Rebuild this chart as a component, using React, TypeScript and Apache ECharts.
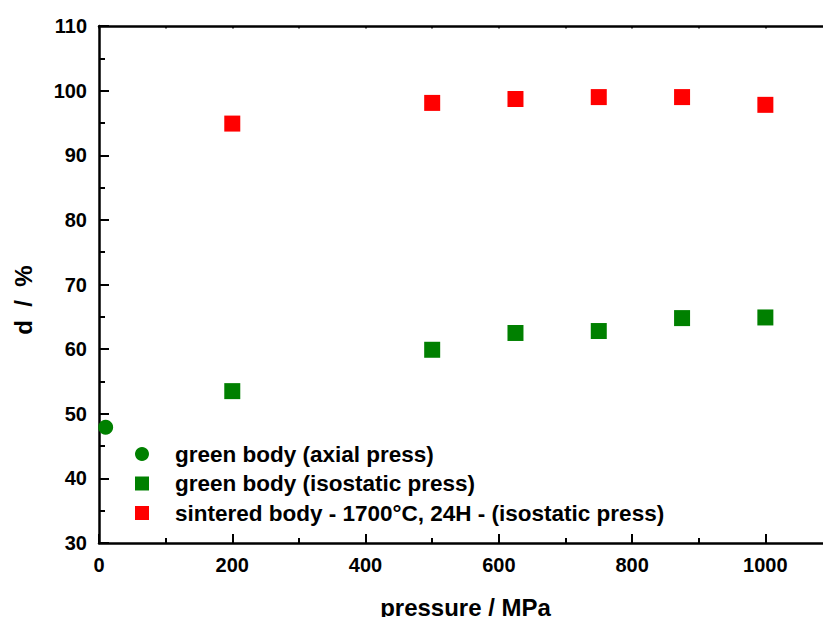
import React, { useEffect, useRef } from "react";
import * as echarts from "echarts";

const seriesNames = [
  "green body (axial press)",
  "green body (isostatic press)",
  "sintered body - 1700°C, 24H - (isostatic press)",
];
const axialX = [10];
const axialY = [47.9];
const isoX = [200, 500, 625, 750, 875, 1000];
const greenIsoY = [53.5, 59.9, 62.5, 62.8, 64.8, 64.9];
const sinteredY = [94.9, 98.1, 98.7, 99.0, 99.0, 97.8];
const yTicks = [30, 40, 50, 60, 70, 80, 90, 100, 110];
const xTicks = [0, 200, 400, 600, 800, 1000];

const FONT = "'Liberation Sans', Arial, Helvetica, sans-serif";

export default function App() {
  const ref = useRef<HTMLDivElement>(null);
  useEffect(() => {
    if (!ref.current) return;
    const chart = echarts.init(ref.current, null, { renderer: "svg" });
    const pair = (xs: number[], ys: number[]) => xs.map((x, i) => [x, ys[i]]);
    const axisLineStyle = { color: "#000", width: 2.5 };
    chart.setOption({
      animation: false,
      backgroundColor: "#fff",
      grid: {
        left: 99,
        top: 26,
        width: 733,
        height: 517,
        containLabel: false,
        outerBoundsMode: "none",
      },
      textStyle: { fontFamily: FONT },
      legend: {
        orient: "vertical",
        left: 135,
        top: 442,
        padding: 0,
        itemWidth: 14,
        itemHeight: 14,
        itemGap: 5.5,
        data: seriesNames,
        textStyle: {
          fontFamily: FONT,
          fontWeight: "bold",
          fontSize: 22.5,
          color: "#000",
          lineHeight: 24,
          padding: [0, 0, 0, 21],
        },
      },
      xAxis: [
        {
          type: "value",
          position: "bottom",
          min: 0,
          max: 1100,
          interval: 200,
          axisLine: { show: true, onZero: false, lineStyle: axisLineStyle },
          axisTick: { show: true, inside: true, length: 9, lineStyle: { width: 2, color: "#000" } },
          axisLabel: {
            showMaxLabel: false,
            margin: 12,
            fontFamily: FONT,
            fontWeight: "bold",
            fontSize: 20,
            color: "#000",
            formatter: (v: number) => (xTicks.includes(v) ? String(v) : ""),
          },
          splitLine: { show: false },
          name: "pressure / MPa",
          nameLocation: "middle",
          nameGap: 52,
          nameTextStyle: { fontFamily: FONT, fontWeight: "bold", fontSize: 24, color: "#000" },
        },
        {
          type: "value",
          position: "bottom",
          min: 0,
          max: 1100,
          interval: 100,
          axisLine: { show: false, onZero: false },
          axisTick: { show: true, inside: true, length: 5, lineStyle: { width: 2, color: "#000" } },
          axisLabel: { show: false },
          splitLine: { show: false },
        },
        {
          type: "value",
          position: "top",
          min: 0,
          max: 1100,
          interval: 100,
          axisLine: { show: true, onZero: false, lineStyle: axisLineStyle },
          axisTick: { show: true, inside: true, length: 2.5, lineStyle: { width: 1.5, color: "#000" } },
          axisLabel: { show: false },
          splitLine: { show: false },
        },
      ],
      yAxis: {
        type: "value",
        min: 30,
        max: 110,
        interval: 10,
        axisLine: { show: true, onZero: false, lineStyle: axisLineStyle },
        axisTick: { show: true, inside: true, length: 10, lineStyle: { width: 2, color: "#000" } },
        minorTick: { show: true, splitNumber: 2, length: 6, lineStyle: { width: 2, color: "#000" } },
        axisLabel: {
          margin: 12,
          fontFamily: FONT,
          fontWeight: "bold",
          fontSize: 20,
          color: "#000",
          formatter: (v: number) => (yTicks.includes(v) ? String(v) : ""),
        },
        splitLine: { show: false },
      },
      graphic: [
        {
          type: "text",
          x: 23,
          y: 300,
          rotation: Math.PI / 2,
          style: {
            text: "d  /  %",
            fontFamily: FONT,
            fontWeight: "bold",
            fontSize: 24,
            fill: "#000",
            align: "center",
            verticalAlign: "middle",
          },
        },
      ],
      series: [
        {
          name: seriesNames[0],
          type: "scatter",
          symbol: "circle",
          symbolSize: 15,
          itemStyle: { color: "#008000", opacity: 1 },
          data: pair(axialX, axialY),
        },
        {
          name: seriesNames[1],
          type: "scatter",
          symbol: "rect",
          symbolSize: 16,
          itemStyle: { color: "#008000", opacity: 1 },
          data: pair(isoX, greenIsoY),
        },
        {
          name: seriesNames[2],
          type: "scatter",
          symbol: "rect",
          symbolSize: 16,
          itemStyle: { color: "#ff0000", opacity: 1 },
          data: pair(isoX, sinteredY),
        },
      ],
    });
    return () => chart.dispose();
  }, []);
  return (
    <div
      ref={ref}
      style={{ position: "absolute", left: 0, top: 0, width: 823, height: 617, overflow: "hidden" }}
    />
  );
}
